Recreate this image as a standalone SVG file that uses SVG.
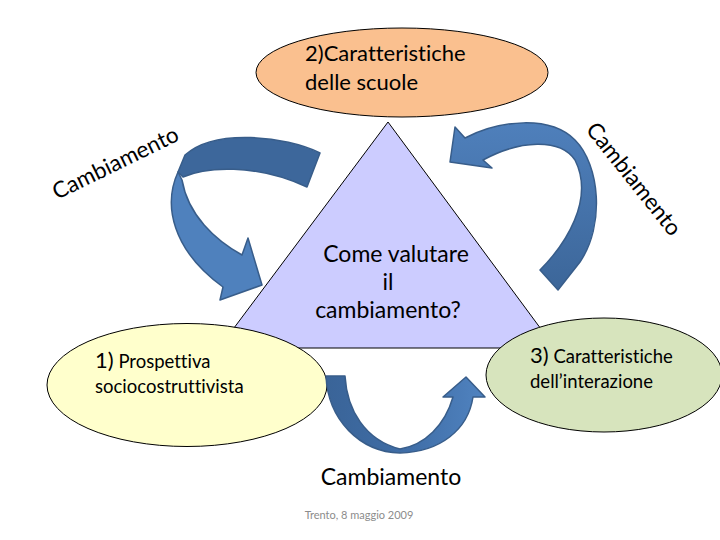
<svg xmlns="http://www.w3.org/2000/svg" width="720" height="540" viewBox="0 0 720 540">
<defs>
<style>
.t{font-family:Lato,"Liberation Sans",sans-serif;fill:#000;font-variant-ligatures:none;font-feature-settings:"liga" 0,"clig" 0}
.shape{stroke:#000;stroke-width:1}
.arr{stroke:#385D8A;stroke-width:1.5;stroke-linejoin:round}
</style>
<linearGradient id="gBot" gradientUnits="userSpaceOnUse" x1="326" y1="0" x2="485" y2="0">
<stop offset="0" stop-color="#3A6498"/><stop offset="0.5" stop-color="#3F6DA6"/><stop offset="1" stop-color="#5083C0"/>
</linearGradient>
<linearGradient id="gRight" gradientUnits="userSpaceOnUse" x1="0" y1="120" x2="0" y2="290">
<stop offset="0" stop-color="#4F80BC"/><stop offset="1" stop-color="#3C6699"/>
</linearGradient>
</defs>
<rect width="720" height="540" fill="#fff"/>

<g id="node-triangle">
<polygon class="shape" points="388,122 219,348 555,348" fill="#CCCCFF"/>
<text class="t" font-size="23" text-anchor="middle"><tspan x="396" y="262">Come valutare</tspan><tspan x="388" y="290">il</tspan><tspan x="388" y="318">cambiamento?</tspan></text>
</g>

<g id="node-top">
<ellipse class="shape" cx="402" cy="72.5" rx="146" ry="44.5" fill="#FAC08F"/>
<text class="t" font-size="22"><tspan x="305" y="61">2)Caratteristiche</tspan><tspan x="305" y="90">delle scuole</tspan></text>
</g>

<g id="node-left">
<ellipse class="shape" cx="187" cy="385" rx="140" ry="61.5" fill="#FFFFCC"/>
<text class="t"><tspan x="95" y="368" font-size="22">1)</tspan><tspan font-size="18.5"> Prospettiva</tspan><tspan x="95" y="393" font-size="18.5">sociocostruttivista</tspan></text>
</g>

<g id="node-right">
<ellipse class="shape" cx="604" cy="375" rx="118" ry="57" fill="#D7E4BD"/>
<text class="t"><tspan x="530" y="363" font-size="22">3)</tspan><tspan font-size="18.5"> Caratteristiche</tspan><tspan x="530" y="388" font-size="18.5">dell’interazione</tspan></text>
</g>

<g id="connectors">
<g id="arrow-left">
<path class="arr" fill="#3D679B" d="M320,153 C285,136 215,128 185,155 L178,172 L183,177 C205,167 255,163 307,187 Z"/>
<path class="arr" fill="#4F81BD" d="M178,172 C163,205 172,250 223,287 L220,300 L262,285 L248,238 L242,255 C215,240 188,215 182,180 Z"/>
</g>
<path id="arrow-right" class="arr" fill="url(#gRight)" d="M455,127 L465,138 C500,120 550,115 575,140 C600,165 605,225 580,262 L558,290 L540,270 C565,245 595,200 575,160 C560,138 520,140 483,160 L492,168 L450,162 Z"/>
<path id="arrow-bottom" class="arr" fill="url(#gBot)" d="M326,376 L345,376 C347,410 365,440 400,449 C425,445 445,425 453,397 L443,397 L466,377 L485,397 L473,397 C468,430 440,452 400,453 C360,452 328,420 326,376 Z"/>
</g>

<g id="labels">
<text class="t" font-size="22.5" transform="translate(57,200) rotate(-26)">Cambiamento</text>
<text class="t" font-size="22.5" transform="translate(585,130) rotate(51.4)">Cambiamento</text>
<text class="t" font-size="23" text-anchor="middle" x="391" y="485">Cambiamento</text>
<text class="t" font-size="11" text-anchor="middle" x="359" y="519" style="fill:#8C8C8C">Trento, 8 maggio 2009</text>
</g>
</svg>
